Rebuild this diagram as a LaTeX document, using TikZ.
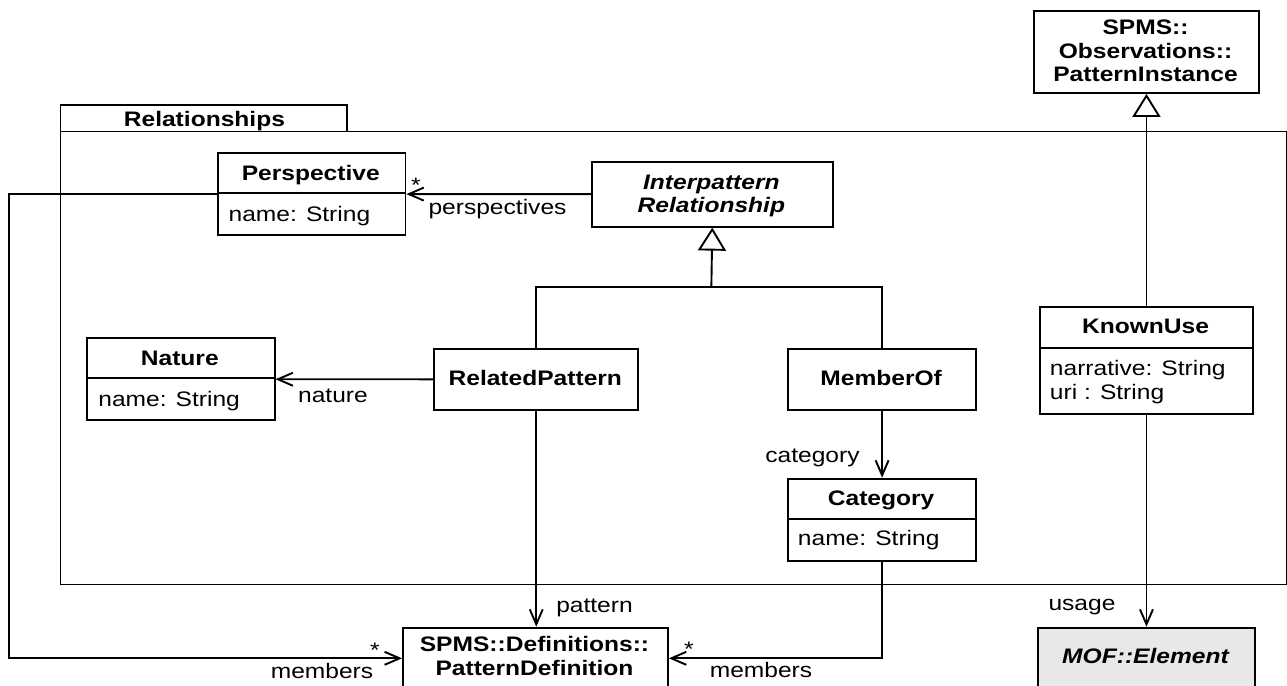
\documentclass[tikz,border=0pt]{standalone}
\usepackage{fontspec}
\setmainfont[FakeStretch=1.17]{Liberation Sans}
\usetikzlibrary{arrows.meta}
\definecolor{mofgray}{HTML}{E8E8E8}
\begin{document}
\begin{tikzpicture}[x=1pt,y=-1pt,
  line width=1.9pt,
  every node/.style={font=\fontsize{21}{24}\selectfont},
  frame/.style={draw, line width=1.9pt, inner sep=0pt, anchor=north west},
  cls/.style={frame, fill=white},
  title/.style={font=\fontsize{21}{24}\selectfont\bfseries, anchor=base, inner sep=0pt},
  ititle/.style={font=\fontsize{21}{24}\selectfont\bfseries\itshape, anchor=base, inner sep=0pt},
  attr/.style={anchor=base west, inner sep=0pt},
  lbl/.style={anchor=base, inner sep=0pt},
  assoc/.style={-{Straight Barb[length=15pt,width=13pt]}},
  inherit/.style={-{Triangle[open,length=23pt,width=28pt]}}
]
\useasboundingbox (0,0) rectangle (1287,685);

% package frame
\node[frame, minimum width=286.5pt, minimum height=26.5pt] (pkgtab) at (59.5,104) {};
\node[frame, minimum width=1226pt, minimum height=453pt] (pkg) at (59.5,130.5) {};
\node[title] (pkgname) at (204.4,126.7) {Relationships};

% classes
\node[cls, minimum width=187.5pt, minimum height=82.3pt] (persp) at (217,152) {};
\node[cls, minimum width=240.7pt, minimum height=65pt] (inter) at (591,160.7) {};
\node[cls, minimum width=187.6pt, minimum height=82pt] (nature) at (86,337.3) {};
\node[cls, minimum width=204pt, minimum height=61.3pt] (relpat) at (433.3,347.7) {};
\node[cls, minimum width=187.7pt, minimum height=61.3pt] (memberof) at (787.3,347.7) {};
\node[cls, minimum width=187.7pt, minimum height=82.3pt] (category) at (787.3,477.7) {};
\node[cls, minimum width=213pt, minimum height=106.7pt] (knownuse) at (1039,306) {};
\node[cls, minimum width=225pt, minimum height=82pt] (spmsobs) at (1033,10) {};
\node[cls, minimum width=265pt, minimum height=61.3pt] (patdef) at (402,626.7) {};
\node[cls, fill=mofgray, minimum width=217pt, minimum height=61.3pt] (mof) at (1037,626.7) {};

% compartment dividers
\draw ([yshift=-41.3pt]persp.north west) -- ([yshift=-41.3pt]persp.north east);
\draw ([yshift=-41pt]nature.north west) -- ([yshift=-41pt]nature.north east);
\draw ([yshift=-41.3pt]category.north west) -- ([yshift=-41.3pt]category.north east);
\draw ([yshift=-41.7pt]knownuse.north west) -- ([yshift=-41.7pt]knownuse.north east);

% class names and attributes
\node[title] (perspname) at (310.75,180.7) {Perspective};
\node[attr] (perspattr) at (227.7,221.7) {name: String};
\node[ititle] (intername1) at (711.35,189) {Interpattern};
\node[ititle] (intername2) at (711.35,212.3) {Relationship};
\node[title] (naturename) at (179.8,365) {Nature};
\node[attr] (natureattr) at (97.4,406.7) {name: String};
\node[title] (relpatname) at (535.3,385) {RelatedPattern};
\node[title] (membername) at (881.15,385) {MemberOf};
\node[title] (categoryname) at (881.15,505) {Category};
\node[attr] (categoryattr) at (797,545.7) {name: String};
\node[title] (knownname) at (1145.5,333.3) {KnownUse};
\node[attr] (knownattr1) at (1049,375) {narrative: String};
\node[attr] (knownattr2) at (1049,399) {uri : String};
\node[title] (obsname1) at (1145.5,34.3) {SPMS::};
\node[title] (obsname2) at (1145.5,59) {Observations::};
\node[title] (obsname3) at (1145.5,81.7) {PatternInstance};
\node[title] (defname1) at (534.5,651.7) {SPMS::Definitions::};
\node[title] (defname2) at (534.5,675) {PatternDefinition};
\node[ititle] (mofname) at (1145.5,663.3) {MOF::Element};

% connectors
\coordinate (lft) at (9,400);
\coordinate (bus) at (711.35,287);
\draw[assoc] (inter.west) -- (persp.east);
\draw[assoc] (persp.west) -- (persp.west -| lft) -- (lft |- patdef.west) -- (patdef.west);
\draw (relpat.north) |- (bus) -| (memberof.north);
\draw[inherit] (bus) -- (inter.south);
\draw[assoc] (relpat.west) -- (nature.east);
\draw[assoc] (relpat.south) -- (relpat.south |- patdef.north);
\draw[assoc] (memberof.south) -- (category.north);
\draw[assoc] (category.south) |- (patdef.east);
\draw[inherit] (knownuse.north) -- (spmsobs.south);
\draw[assoc] (knownuse.south) -- (mof.north);

% role names and multiplicities
\node[lbl] (m1) at (416,192) {*};
\node[lbl] (r1) at (497.5,214) {perspectives};
\node[lbl] (r2) at (333,402.3) {nature};
\node[lbl] (r3) at (812.5,462.7) {category};
\node[lbl] (r4) at (594.5,612.3) {pattern};
\node[lbl] (r5) at (1082,610.7) {usage};
\node[lbl] (m2) at (375,657) {*};
\node[lbl] (r6) at (322,678.3) {members};
\node[lbl] (m3) at (689,656) {*};
\node[lbl] (r7) at (761,677.3) {members};
\end{tikzpicture}
\end{document}
